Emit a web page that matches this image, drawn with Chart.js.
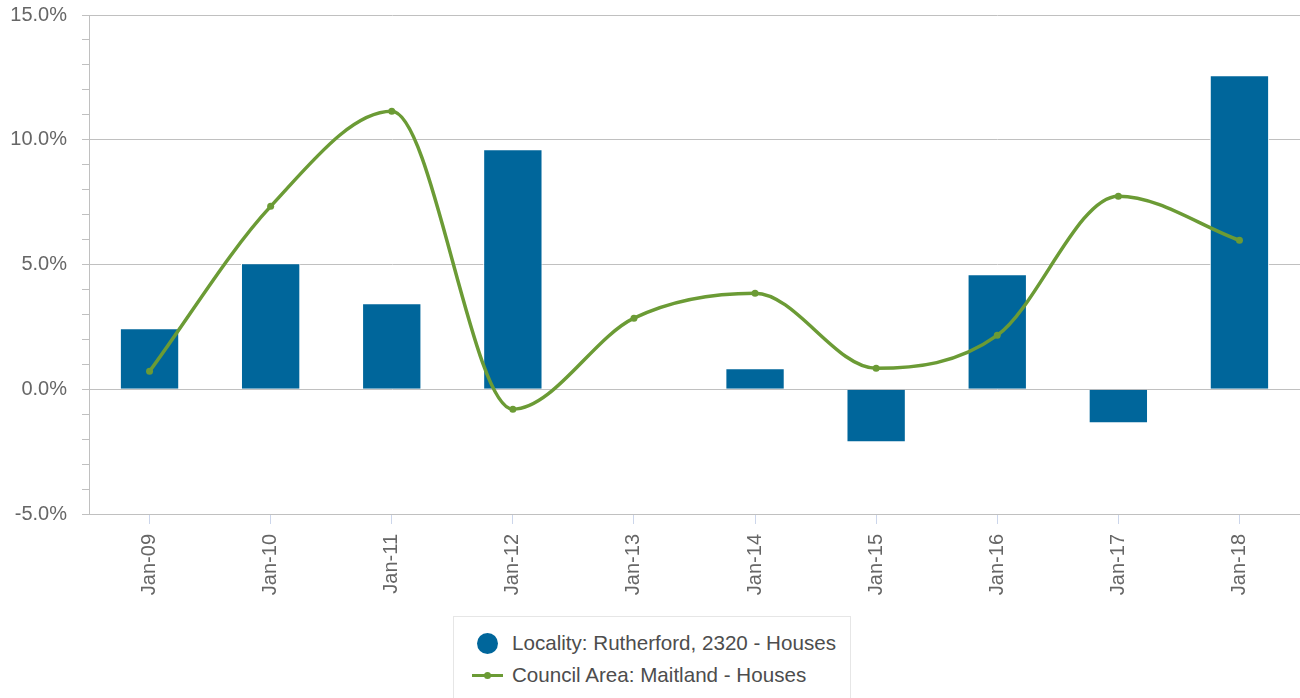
<!DOCTYPE html>
<html>
<head>
<meta charset="utf-8">
<script src="https://cdn.jsdelivr.net/npm/chart.js@4/dist/chart.umd.min.js"></script>
<style>
    body { margin: 0; background: #fff; font-family: 'Liberation Sans', Arial, sans-serif; }
    #wrap { position: relative; width: 1300px; height: 698px; overflow: hidden; }
    #chartBox { position: absolute; left: 0; top: 0; width: 1300px; height: 616px; }
    #legend { position: absolute; left: 453px; top: 616px; width: 398px; height: 95px;
              border: 1px solid #e6e6e6; box-sizing: border-box; }
    .item { position: absolute; left: 0; height: 32px; line-height: 32px; font-size: 20.6px; color: #4d4d4d; white-space: nowrap; }
    .item .txt { position: absolute; left: 58px; top: 0; }
    .sym { position: absolute; }
</style>
</head>
<body>
<div id="wrap">
    <div id="chartBox"><canvas id="growthChart"></canvas></div>
    <div id="legend"></div>
</div>
<script>
const categories = ['Jan-09', 'Jan-10', 'Jan-11', 'Jan-12', 'Jan-13', 'Jan-14', 'Jan-15', 'Jan-16', 'Jan-17', 'Jan-18'];
const localityValues = [2.44, 5.05, 3.45, 9.62, null, 0.84, -2.12, 4.61, -1.36, 12.59];
const councilValues = [0.72, 7.33, 11.14, -0.80, 2.85, 3.85, 0.84, 2.16, 7.74, 5.97];
const localityLabel = 'Locality: Rutherford, 2320 - Houses';
const councilLabel = 'Council Area: Maitland - Houses';

const barColor = '#00669b';
const lineColor = '#6b9b35';
const gridColor = '#c0c0c0';

const growthCtx = document.getElementById('growthChart');

const growthChart = new Chart(growthCtx, {
    type: 'bar',
    data: {
        labels: categories,
        datasets: [{
            type: 'line',
            label: councilLabel,
            data: councilValues,
            borderColor: lineColor,
            backgroundColor: lineColor,
            pointBackgroundColor: lineColor,
            pointBorderColor: lineColor,
            borderWidth: 3.5,
            pointRadius: 3.5,
            pointBorderWidth: 0,
            cubicInterpolationMode: 'monotone',
            fill: false,
            order: 0
        }, {
            type: 'bar',
            label: localityLabel,
            data: localityValues,
            backgroundColor: barColor,
            borderColor: '#ffffff',
            borderWidth: 1,
            categoryPercentage: 1,
            barPercentage: 0.49,
            order: 1
        }]
    },
    options: {
        responsive: true,
        maintainAspectRatio: false,
        animation: false,
        layout: {
            autoPadding: false,
            padding: { top: 15, right: 0, left: 0, bottom: 0 }
        },
        plugins: {
            legend: { display: false },
            tooltip: { enabled: false }
        },
        scales: {
            x: {
                offset: true,
                afterFit: function (scale) {
                    scale.height = 102;
                    scale.paddingLeft = 0;
                    scale.paddingRight = 0;
                },
                border: { display: true, color: gridColor, width: 1 },
                grid: {
                    display: true,
                    offset: false,
                    drawOnChartArea: false,
                    drawTicks: true,
                    tickLength: 10,
                    tickColor: '#ccd6eb'
                },
                ticks: {
                    autoSkip: false,
                    minRotation: 90,
                    maxRotation: 90,
                    padding: 10,
                    color: '#666666',
                    font: { family: 'Liberation Sans', size: 20 }
                }
            },
            y: {
                min: -5,
                max: 15,
                afterFit: function (scale) {
                    scale.width = 89;
                    scale.paddingTop = 0;
                    scale.paddingBottom = 0;
                },
                border: { display: true, color: gridColor, width: 1 },
                grid: {
                    color: function (context) {
                        return context.tick && context.tick.value % 5 === 0 ? gridColor : 'rgba(0,0,0,0)';
                    },
                    tickColor: gridColor,
                    tickLength: 7,
                    lineWidth: 1
                },
                ticks: {
                    stepSize: 1,
                    autoSkip: false,
                    padding: 15,
                    color: '#666666',
                    font: { family: 'Liberation Sans', size: 20 },
                    callback: function (value) {
                        return value % 5 === 0 ? value.toFixed(1) + '%' : '';
                    }
                }
            }
        }
    }
});

// legend, in the same order as the reference: bars first, then line
const legendBox = document.getElementById('legend');
const legendItems = [
    { label: localityLabel, kind: 'circle', color: barColor, top: 10 },
    { label: councilLabel, kind: 'line', color: lineColor, top: 42 }
];
legendItems.forEach(function (item) {
    const row = document.createElement('div');
    row.className = 'item';
    row.style.top = item.top + 'px';
    row.style.width = '396px';
    const sym = document.createElement('div');
    sym.className = 'sym';
    if (item.kind === 'circle') {
        sym.style.cssText = 'left:23px;top:6px;width:21px;height:21px;border-radius:50%;background:' + item.color;
    } else {
        sym.style.cssText = 'left:18px;top:15px;width:31px;height:3px;background:' + item.color;
        const dot = document.createElement('div');
        dot.style.cssText = 'position:absolute;left:12px;top:-2px;width:7px;height:7px;border-radius:50%;background:' + item.color;
        sym.appendChild(dot);
    }
    const txt = document.createElement('span');
    txt.className = 'txt';
    txt.textContent = item.label;
    row.appendChild(sym);
    row.appendChild(txt);
    legendBox.appendChild(row);
});
</script>
</body>
</html>
